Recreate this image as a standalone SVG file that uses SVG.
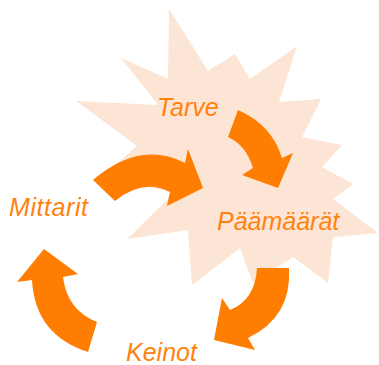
<svg xmlns="http://www.w3.org/2000/svg" width="379" height="365" viewBox="0 0 379 365">
<style>
.burst{fill:#FDE5D5;stroke:none}
.arrow{fill:#FF7D00;stroke:none}
.lbl{font-family:"Liberation Sans",Arial,sans-serif;font-style:italic;font-size:25px;fill:#FF820F}
</style>
<rect width="379" height="365" fill="#FFFFFF"/>
<g id="burst">
<polygon class="burst" points="169,9 208,71 235,54 250,79 297,46 279,102 321,99 302,137 342,145 322,167 353,184 333,199 378,233 333,237 328,283 293,257 253,283 240,248 192,285 188,230 127,239 175,192 100,178 137,146 76,101 158,105 121,58 168,79"/>
</g>
<g id="connectors">
<path class="arrow" d="M93,180 Q140,140 185,163 L188,149 L203,188 L167,206 L170,192 Q143,178 115,201 Z"/>
<path class="arrow" d="M238,110 Q272,125 282,158 L293,153 L278,188 L242,175 L253,168 Q246,145 228,137 Z"/>
<path class="arrow" d="M257,268 L289,268 Q292,317 248,338 L255,350 L214,340 L222,298 L230,310 Q255,300 257,268 Z"/>
<path class="arrow" d="M88,352 Q35,335 32,280 L17,282 L44,249 L78,274 L63,277 Q67,310 97,322 Z"/>
</g>
<g id="tarve"><text class="lbl" x="157" y="116">Tarve</text></g>
<g id="paamaarat"><text class="lbl" x="217" y="230">Päämäärät</text></g>
<g id="keinot"><text class="lbl" x="126" y="361">Keinot</text></g>
<g id="mittarit"><text class="lbl" x="9" y="216" textLength="79">Mittarit</text></g>
</svg>
